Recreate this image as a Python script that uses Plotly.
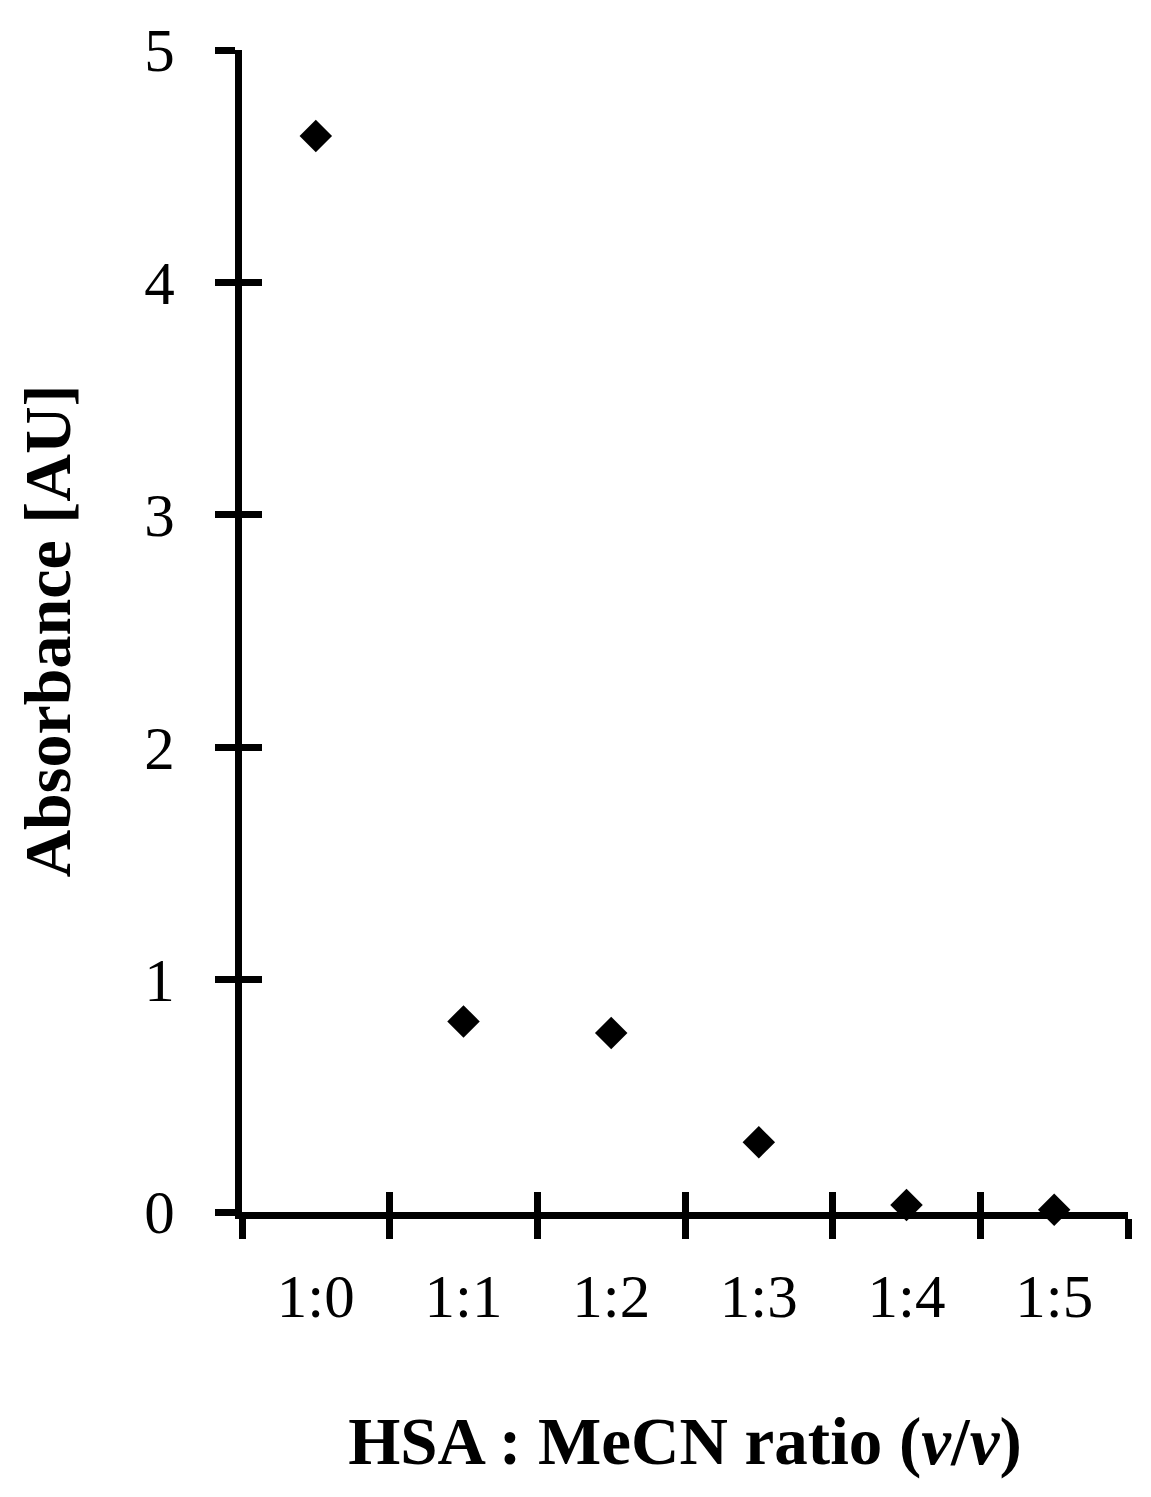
import plotly.graph_objects as go

# data
ratios = ["1:0", "1:1", "1:2", "1:3", "1:4", "1:5"]
absorbance = [4.63, 0.82, 0.77, 0.30, 0.03, 0.01]
y_ticks = [0, 1, 2, 3, 4, 5]

FONT = "Liberation Serif"
LINE_W = 7
TICK_LEN = 20

fig = go.Figure()

fig.add_trace(
    go.Scatter(
        x=ratios,
        y=absorbance,
        mode="markers",
        marker=dict(symbol="diamond", size=25, color="black"),
        showlegend=False,
        cliponaxis=False,
    )
)

# invisible copy on a second pair of axes (same domain) that draws the inside half of the ticks
fig.add_trace(
    go.Scatter(
        x=ratios,
        y=absorbance,
        mode="markers",
        marker=dict(opacity=0),
        xaxis="x2",
        yaxis="y2",
        showlegend=False,
        hoverinfo="skip",
    )
)

common_x = dict(
    type="category",
    categoryorder="array",
    categoryarray=ratios,
    range=[-0.5, len(ratios) - 0.5],
    tickson="boundaries",
    ticklen=TICK_LEN,
    tickwidth=LINE_W,
    tickcolor="black",
    showgrid=False,
    zeroline=False,
    domain=[0, 1],
)
common_y = dict(
    range=[0, 5],
    tickvals=y_ticks,
    ticklen=TICK_LEN,
    tickwidth=LINE_W,
    tickcolor="black",
    showgrid=False,
    zeroline=False,
    domain=[0, 1],
)

fig.update_layout(
    width=1151,
    height=1497,
    paper_bgcolor="white",
    plot_bgcolor="rgba(0,0,0,0)",
    margin=dict(l=234, r=31, t=42, b=293, autoexpand=False),
    font=dict(family=FONT, color="black", size=61),
    xaxis=dict(
        **common_x,
        anchor="y",
        ticks="outside",
        showline=True,
        linecolor="black",
        linewidth=LINE_W,
        tickfont=dict(size=61),
        ticklabelstandoff=25,
        title=dict(
            text="<b>HSA : MeCN ratio (<i>v</i>/<i>v</i>)</b>",
            font=dict(size=67),
            standoff=90,
        ),
        automargin=False,
    ),
    yaxis=dict(
        **common_y,
        anchor="x",
        ticks="outside",
        showline=True,
        linecolor="black",
        linewidth=LINE_W,
        tickfont=dict(size=61),
        ticklabelstandoff=28,
        title=dict(
            text="<b>Absorbance [AU]</b>",
            font=dict(size=66),
            standoff=55,
        ),
        automargin=False,
    ),
    xaxis2=dict(
        **common_x,
        anchor="y2",
        ticks="inside",
        showticklabels=False,
        showline=False,
    ),
    yaxis2=dict(
        **common_y,
        anchor="x2",
        ticks="inside",
        showticklabels=False,
        showline=False,
    ),
)

fig.write_html("out.html")
